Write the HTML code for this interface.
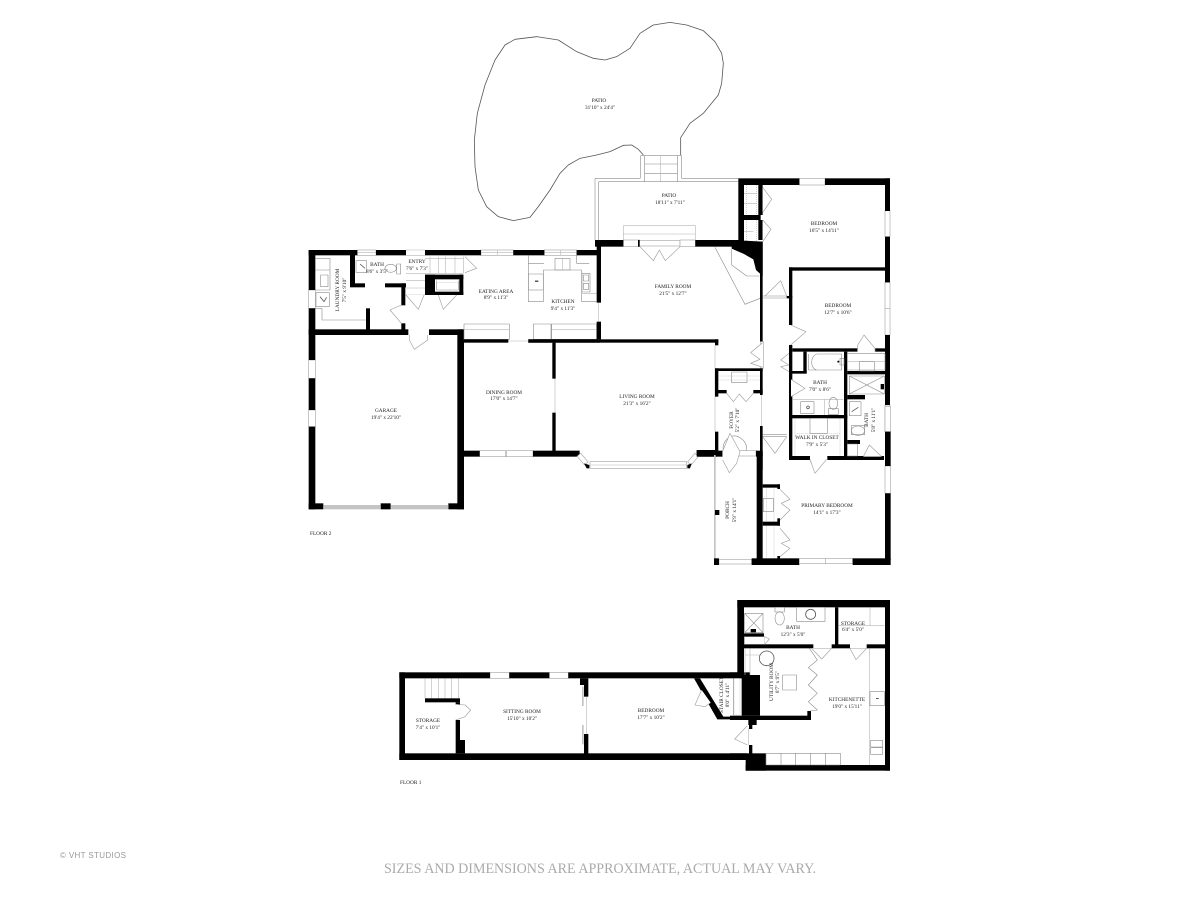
<!DOCTYPE html>
<html lang="en"><head><meta charset="utf-8"><title>Floor plan</title>
<style>
html,body{margin:0;padding:0;background:#fff}
svg{display:block;filter:blur(.35px)}
.k{fill:#000}
.w{fill:#fff;stroke:#aaa;stroke-width:2}
.g{fill:#c4c4c4}
.t{fill:none;stroke:#8a8a8a;stroke-width:1.8;stroke-linejoin:round}
.s{fill:none;stroke:#aaa;stroke-width:1.6;stroke-dasharray:3 3}
.l{fill:none;stroke:#b5b5b5;stroke-width:1.8}
.d{fill:#fff;stroke:#999;stroke-width:1.8;stroke-linejoin:round}
.n{fill:none;stroke:#555;stroke-width:2.4;stroke-linejoin:round}
text{font-family:"Liberation Serif",serif;font-size:5.3px;fill:#222;text-anchor:middle}
</style></head><body>
<svg width="1200" height="900" viewBox="0 0 1200 900" xmlns="http://www.w3.org/2000/svg">
<rect width="1200" height="900" fill="#fff"/>

<!-- Patio curve + steps -->
<g transform="translate(470,10) scale(.33333)">
<path class="n" d="M520,435 L505,418 L485,405 L460,406 L420,425 L380,435 L330,445 L295,465 L270,490 L240,540 L205,590 L180,622 L130,632 L85,620 L50,590 L25,540 L15,470 L13,390 L22,310 L45,225 L75,150 L105,105 L135,88 L200,80 L265,90 L320,125 L370,145 L405,150 L440,140 L480,115 L510,70 L550,45 L600,37 L650,45 L700,62 L735,95 L755,130 L760,160 L755,220 L745,255 L700,310 L660,340 L632,383 L632,435"/>
<path class="t" d="M512,505V437H635V505 M524,437V515 M622,437V515 M524,490H622 M524,462H622 M375,505H510 M635,505H805 M386,515H805 M386,515V690 M375,505V690"/>
<path class="l" d="M572,437V515"/>
</g>

<!-- West wing / garage / dining -->
<g transform="translate(300,240) scale(.33333)">
<rect class="w" x="172" y="30" width="56" height="16"/><rect class="w" x="543" y="30" width="97" height="16"/><rect class="w" x="733" y="30" width="97" height="16"/><rect class="w" x="26" y="360" width="20" height="55"/><rect class="w" x="26" y="510" width="20" height="50"/><rect class="w" x="26" y="150" width="20" height="55"/>
<path class="l" d="M592,30V46 M782,30V46 M172,38H228 M543,38H640 M733,38H830 M318,30H375 M318,46H375"/>
<rect class="k" x="26" y="30" width="146" height="16"/><rect class="k" x="228" y="30" width="90" height="16"/><rect class="k" x="375" y="30" width="168" height="16"/><rect class="k" x="640" y="30" width="93" height="16"/><rect class="k" x="830" y="30" width="70" height="16"/>
<rect class="k" x="26" y="30" width="20" height="120"/><rect class="k" x="26" y="205" width="20" height="155"/><rect class="k" x="26" y="415" width="20" height="95"/><rect class="k" x="26" y="560" width="20" height="248"/>
<rect class="k" x="26" y="268" width="299" height="17"/><rect class="k" x="387" y="268" width="103" height="17"/><rect class="k" x="472" y="268" width="20" height="540"/>
<rect class="k" x="26" y="790" width="44" height="18"/><rect class="k" x="242" y="790" width="30" height="18"/><rect class="k" x="445" y="790" width="47" height="18"/>
<rect class="g" x="70" y="795" width="172" height="13"/><rect class="g" x="272" y="795" width="173" height="13"/>
<rect class="k" x="150" y="30" width="15" height="110"/><rect class="k" x="150" y="130" width="45" height="12"/><rect class="k" x="255" y="130" width="63" height="12"/>
<rect class="k" x="304" y="130" width="12" height="66"/><rect class="k" x="304" y="250" width="12" height="20"/><rect class="k" x="198" y="205" width="12" height="65"/>
<rect class="k" x="375" y="104" width="115" height="14"/><rect class="k" x="375" y="104" width="30" height="61"/><rect class="k" x="478" y="104" width="12" height="61"/><rect class="k" x="405" y="155" width="85" height="10"/>
<path class="s" d="M410,128H475"/><path class="t" d="M410,122V150H475V122"/>
<!-- stairs -->
<path class="l" d="M318,100H375 M318,122H375 M318,144H375 M318,165H375 M390,50V100 M415,50V100 M437,50V100 M465,50V100 M490,50V100 M375,55H490 M375,100H490"/>
<!-- laundry -->
<path class="t" d="M46,55H90V150H46 M66,205V240H198 M66,205H46 M46,90H90"/>
<rect class="t" x="62" y="105" width="22" height="35"/><rect class="t" x="48" y="158" width="40" height="42"/><path class="n" d="M60,170L72,185L80,172"/>
<!-- bath fixtures -->
<rect class="t" x="168" y="62" width="32" height="35"/><path class="n" d="M180,72L195,85"/><ellipse class="t" cx="272" cy="85" rx="17" ry="12"/><rect class="t" x="290" y="72" width="12" height="30"/>
<!-- kitchen -->
<path class="t" d="M685,46V185H730V90H845V185H890 M685,70H732 M830,46V70H868"/>
<rect class="t" x="685" y="102" width="45" height="48"/><rect class="t" x="765" y="55" width="45" height="35"/><path class="l" d="M788,55V90 M685,150H730 M845,160H890"/>
<rect class="t" x="846" y="100" width="24" height="56"/><rect x="850" y="105" width="16" height="18" class="t"/><rect x="850" y="130" width="16" height="18" class="t"/>
<path class="k" d="M705,122h10v3h-10z"/>
<rect class="t" x="492" y="252" width="136" height="46"/><rect class="t" x="700" y="252" width="53" height="46"/><rect class="t" x="755" y="252" width="135" height="46"/>
<path class="l" d="M492,268H628 M755,268H890"/>
<rect class="k" x="492" y="298" width="133" height="10"/><rect class="k" x="685" y="298" width="215" height="10"/>
<path class="l" d="M625,303H685"/>
<rect class="k" x="757" y="308" width="10" height="108"/><rect class="k" x="757" y="518" width="10" height="115"/><path class="l" d="M765,416V518"/>
<rect class="w" x="539" y="632" width="78" height="18"/><rect class="w" x="619" y="632" width="80" height="18"/>
<rect class="k" x="492" y="632" width="47" height="18"/><rect class="k" x="699" y="632" width="140" height="18"/>
<rect class="k" x="890" y="0" width="13" height="188"/><rect class="k" x="890" y="245" width="13" height="53"/><path class="l" d="M896,188V245"/>
<!-- doors -->
<polyline class="d" points="328,285 328,300 343,328 383,300 383,285"/>
<polyline class="d" points="304,195 270,210 304,250"/>
<polyline class="d" points="495,50 530,85 495,98"/>
<polyline class="d" points="318,165 355,208 372,165"/>
<polyline class="d" points="415,165 430,208 470,165"/>
</g>

<!-- Living room / bay -->
<g transform="translate(460,330) scale(.33333)">
<rect class="k" x="205" y="28" width="570" height="10"/><rect class="k" x="765" y="28" width="10" height="18"/>
<path class="l" d="M765,46V305"/>
<rect class="k" x="710" y="360" width="60" height="20"/>
<g transform="rotate(50 367 388)"><rect class="w" x="350" y="380" width="34" height="14"/></g>
<g transform="rotate(-50 700 388)"><rect class="w" x="683" y="380" width="34" height="14"/></g>
<rect class="w" x="390" y="395" width="290" height="20"/><path class="l" d="M390,405H680"/>
<polygon class="k" points="372,400 388,405 388,415 380,415"/><polygon class="k" points="695,400 682,405 682,415 690,415"/>
</g>

<!-- Family room, bedrooms -->
<g transform="translate(590,170) scale(.33333)">
<path class="l" d="M100,167H316V210 M100,167V210 M100,192H316"/>
<rect class="w" x="100" y="210" width="48" height="20"/><rect class="w" x="148" y="212" width="122" height="16"/><rect class="w" x="270" y="210" width="46" height="20"/>
<rect class="k" x="15" y="210" width="85" height="20"/><rect class="k" x="316" y="210" width="130" height="20"/>
<rect class="k" x="144" y="210" width="5" height="20"/>
<polyline class="d" points="150,230 190,272 208,240 226,272 270,230"/>
<rect class="w" x="628" y="25" width="77" height="20"/>
<rect class="k" x="445" y="25" width="183" height="20"/><rect class="k" x="705" y="25" width="195" height="20"/>
<rect class="w" x="885" y="122" width="15" height="78"/><rect class="w" x="885" y="337" width="15" height="78"/><rect class="w" x="885" y="415" width="15" height="80"/><rect class="w" x="885" y="705" width="15" height="80"/>
<rect class="k" x="885" y="25" width="15" height="98"/><rect class="k" x="885" y="200" width="15" height="137"/><rect class="k" x="885" y="495" width="15" height="210"/><rect class="k" x="885" y="785" width="15" height="70"/>
<rect class="k" x="445" y="45" width="17" height="170"/><rect class="k" x="462" y="135" width="50" height="15"/><rect class="k" x="505" y="45" width="13" height="90"/><rect class="k" x="505" y="150" width="13" height="60"/>
<path class="s" d="M470,45V135 M500,45V135 M470,150V215 M500,150V215"/><path class="l" d="M462,185H490 M462,70H500 M462,100H500"/>
<polyline class="d" points="518,52 545,88 518,128"/><polyline class="d" points="518,150 543,178 518,215"/>
<polygon class="k" points="425,210 518,215 518,318 498,300 490,268 462,252 425,236"/>
<path class="t" d="M425,238V285L470,318H508 M375,232L465,403L510,385"/>
<rect class="k" x="510" y="215" width="8" height="300"/><rect class="k" x="510" y="595" width="8" height="80"/><rect class="k" x="510" y="768" width="8" height="132"/>
<path class="l" d="M514,675V768"/>
<polyline class="d" points="525,378 572,332 590,378"/><path class="t" d="M518,378H590 M518,384H590"/>
<rect class="k" x="590" y="378" width="17" height="7"/>
<rect class="k" x="597" y="292" width="288" height="10"/><rect class="k" x="597" y="292" width="10" height="173"/><rect class="k" x="597" y="525" width="10" height="335"/>
<rect class="w" x="512" y="515" width="8" height="80"/>
<polyline class="d" points="518,518 482,548 510,568 482,580 518,592"/>
<polyline class="d" points="602,465 648,485 602,525"/>
<rect class="k" x="607" y="535" width="195" height="10"/><rect class="k" x="855" y="535" width="30" height="10"/>
<polyline class="d" points="803,545 803,525 822,495 855,535 855,545"/>
<rect class="k" x="640" y="545" width="10" height="65"/><rect class="k" x="597" y="603" width="53" height="8"/>
<polyline class="d" points="597,550 572,570 597,585 572,590 597,605"/>
<rect class="k" x="762" y="545" width="10" height="325"/><rect class="k" x="597" y="735" width="175" height="10"/>
<rect class="k" x="597" y="858" width="63" height="12"/><rect class="k" x="712" y="858" width="170" height="12"/>
<rect class="k" x="772" y="603" width="113" height="10"/><rect class="k" x="772" y="675" width="53" height="13"/><rect class="k" x="772" y="810" width="38" height="12"/>
<rect class="k" x="375" y="595" width="143" height="8"/><rect class="k" x="375" y="595" width="10" height="85"/><rect class="k" x="375" y="660" width="35" height="10"/><rect class="k" x="490" y="660" width="28" height="10"/><rect class="k" x="375" y="785" width="10" height="65"/>
<rect class="k" x="320" y="842" width="78" height="18"/><rect class="w" x="398" y="842" width="100" height="16"/><rect class="k" x="498" y="842" width="20" height="18"/>
<path class="s" d="M385,618H510 M385,630H510"/><rect class="t" x="425" y="606" width="46" height="32"/>
<polyline class="d" points="410,670 430,695 448,672 468,695 490,670"/>
<path class="t" d="M400,842C395,815 420,790 445,800C470,815 472,830 468,842"/>
<!-- bath fixtures -->
<path class="t" d="M655,552V600H680C660,595 660,560 680,552H755V600H680"/><circle cx="745" cy="575" r="3"/><rect class="t" x="750" y="565" width="12" height="20"/>
<rect class="t" x="772" y="550" width="113" height="50"/><path class="l" d="M772,575H885"/><rect class="t" x="808" y="575" width="45" height="28"/>
<rect class="t" x="778" y="618" width="105" height="54"/><path class="t" d="M778,618L883,672 M883,618L778,672"/><rect class="k" x="872" y="642" width="10" height="16"/>
<polyline class="d" points="603,628 645,655 603,680"/>
<path class="l" d="M607,688H760"/><rect class="t" x="632" y="695" width="40" height="36"/><circle class="n" cx="654" cy="712" r="4"/>
<ellipse class="t" cx="730" cy="700" rx="13" ry="18"/><rect class="t" x="715" y="716" width="30" height="17"/><path class="l" d="M703,688V735"/>
<rect class="t" x="778" y="695" width="35" height="42"/><path class="n" d="M785,725L805,712"/>
<rect class="t" x="784" y="767" width="40" height="27"/><ellipse class="t" cx="804" cy="782" rx="20" ry="14"/>
<path class="s" d="M615,745V858 M750,745V858 M620,790H750"/><rect class="t" x="660" y="745" width="52" height="45"/>
<polyline class="d" points="518,800 555,850 590,800"/><path class="t" d="M518,794H590 M518,800H590"/>
<polyline class="d" points="660,870 672,898 705,870"/>
<rect class="t" x="772" y="822" width="30" height="36"/>
</g>

<!-- Primary bedroom and porch -->
<g transform="translate(700,340) scale(.33333)">
<rect class="g" x="42" y="345" width="5" height="315"/>
<rect class="k" x="45" y="510" width="13" height="15"/>
<rect class="k" x="170" y="335" width="18" height="340"/>
<polyline class="d" points="68,333 90,280 120,335 110,370 88,398 68,360"/>
<rect class="w" x="57" y="658" width="98" height="14"/>
<rect class="k" x="42" y="655" width="15" height="20"/><rect class="k" x="155" y="655" width="143" height="20"/>
<rect class="w" x="298" y="655" width="78" height="16"/><rect class="w" x="376" y="655" width="82" height="16"/>
<rect class="k" x="458" y="655" width="114" height="20"/>
<rect class="w" x="555" y="200" width="17" height="75"/><rect class="w" x="555" y="378" width="17" height="82"/>
<rect class="k" x="555" y="275" width="17" height="103"/><rect class="k" x="555" y="460" width="17" height="200"/>
<rect class="k" x="188" y="433" width="52" height="10"/><rect class="k" x="232" y="433" width="8" height="14"/><rect class="k" x="188" y="545" width="52" height="12"/><rect class="k" x="232" y="535" width="8" height="22"/><rect class="k" x="232" y="648" width="8" height="12"/>
<path class="s" d="M200,443V545 M222,443V545 M200,557V655 M222,557V655"/><rect class="t" x="190" y="475" width="30" height="40"/>
<polyline class="d" points="240,448 270,478 244,490 270,510 240,540"/>
<polyline class="d" points="240,565 270,600 244,610 270,625 240,650"/>
<polyline class="d" points="330,358 345,400 380,358"/>
<polyline class="d" points="490,350 508,315 545,350"/>
</g>

<!-- Floor 1 left -->
<g transform="translate(390,660) scale(.33333)">
<rect class="w" x="300" y="37" width="58" height="18"/><rect class="w" x="478" y="37" width="57" height="18"/>
<rect class="k" x="28" y="37" width="272" height="18"/><rect class="k" x="358" y="37" width="120" height="18"/><rect class="k" x="535" y="37" width="545" height="18"/>
<rect class="k" x="28" y="37" width="17" height="263"/><rect class="k" x="28" y="280" width="1040" height="20"/>
<path class="l" d="M105,55V115 M125,55V115 M145,55V115 M165,55V115 M185,55V115 M205,55V115"/>
<rect class="k" x="105" y="115" width="105" height="12"/><rect class="k" x="197" y="127" width="13" height="8"/><rect class="k" x="197" y="180" width="13" height="100"/><rect class="k" x="210" y="240" width="15" height="40"/>
<polyline class="d" points="197,133 225,135 242,150 225,170 197,180"/>
<rect class="k" x="582" y="55" width="13" height="55"/><rect class="k" x="570" y="55" width="12" height="20"/><rect class="k" x="582" y="222" width="13" height="60"/>
<rect class="g" x="576" y="80" width="5" height="58"/><rect class="g" x="576" y="195" width="5" height="58"/><path class="l" d="M590,110V222"/>
<polygon class="k" points="912,55 930,55 1000,170 1050,170 1050,178 982,178"/>
<polyline class="d" points="935,90 915,135 945,140 962,128"/>
<path class="t" d="M1030,55V165"/><rect class="s" x="1032" y="55" width="18" height="110"/>
</g>

<!-- Floor 1 right -->
<g transform="translate(730,595) scale(.33333)">
<rect class="k" x="22" y="15" width="458" height="22"/><rect class="k" x="22" y="15" width="20" height="222"/><rect class="k" x="465" y="15" width="15" height="512"/>
<rect class="k" x="47" y="510" width="433" height="17"/><rect class="k" x="47" y="475" width="61" height="52"/><rect class="k" x="0" y="475" width="50" height="20"/>
<rect class="k" x="42" y="148" width="208" height="12"/><rect class="k" x="305" y="148" width="55" height="12"/><rect class="k" x="410" y="148" width="55" height="12"/>
<rect class="k" x="315" y="37" width="10" height="112"/>
<rect class="k" x="0" y="232" width="35" height="16"/><rect class="k" x="35" y="240" width="55" height="122"/><rect class="k" x="0" y="362" width="243" height="13"/><rect class="k" x="232" y="348" width="11" height="27"/>
<rect class="k" x="55" y="375" width="25" height="15"/><rect class="k" x="57" y="390" width="10" height="12"/><rect class="k" x="57" y="450" width="10" height="30"/>
<rect class="k" x="42" y="115" width="60" height="10"/>
<rect class="t" x="44" y="55" width="55" height="58"/><path class="t" d="M44,55L99,113 M99,55L44,113"/><rect class="k" x="62" y="102" width="16" height="10"/>
<rect class="t" x="44" y="125" width="60" height="23"/><polyline class="d" points="104,125 118,132 104,148"/>
<rect class="t" x="135" y="37" width="28" height="14"/><ellipse class="t" cx="149" cy="70" rx="14" ry="20"/>
<rect class="t" x="200" y="37" width="85" height="42"/><circle class="n" cx="242" cy="58" r="15"/>
<path class="l" d="M326,92H464 M420,37V92"/>
<polyline class="d" points="245,160 275,192 305,160"/><polyline class="d" points="360,160 378,194 410,160"/>
<path class="l" d="M245,160H305 M360,160H410"/>
<path class="t" d="M238,160L262,195L235,218L262,240L235,270L262,295L235,320L262,345L240,348"/>
<path class="l" d="M60,160V240 M45,160V240 M45,180H90"/>
<circle class="n" cx="110" cy="190" r="22"/><rect class="t" x="158" y="240" width="42" height="45"/>
<path class="l" d="M418,160V510"/>
<rect class="t" x="420" y="290" width="43" height="42"/><rect class="k" x="438" y="310" width="8" height="2"/>
<rect class="t" x="422" y="436" width="36" height="20"/><rect class="t" x="422" y="458" width="36" height="20"/>
<polyline class="d" points="52,392 14,432 52,450"/><path class="l" d="M55,400V450"/>
<rect class="t" x="108" y="475" width="223" height="35"/><path class="t" d="M153,475V510 M197,475V510 M242,475V510 M287,475V510"/>
</g>

<!-- Labels -->
<text x="599" y="102">PATIO</text><text x="600" y="109">31'10" x 24'4"</text>
<text x="669" y="197">PATIO</text><text x="670" y="204">18'11" x 7'11"</text>
<text x="824" y="225">BEDROOM</text><text x="824" y="232">16'5" x 14'11"</text>
<text x="838" y="307">BEDROOM</text><text x="838" y="314">12'7" x 10'6"</text>
<text x="673" y="288">FAMILY ROOM</text><text x="673" y="295">21'5" x 12'7"</text>
<text x="563" y="303">KITCHEN</text><text x="563" y="310">9'4" x 11'3"</text>
<text x="496" y="293">EATING AREA</text><text x="496" y="299">8'9" x 11'3"</text>
<text x="417" y="263">ENTRY</text><text x="417" y="270">7'6" x 7'3"</text>
<text x="377" y="266">BATH</text><text x="377" y="273">8'6" x 3'5"</text>
<text transform="translate(339,290) rotate(-90)">LAUNDRY ROOM</text><text transform="translate(346,290) rotate(-90)">7'5" x 9'10"</text>
<text x="386" y="412">GARAGE</text><text x="386" y="419">19'4" x 22'10"</text>
<text x="504" y="394">DINING ROOM</text><text x="504" y="400">17'0" x 14'7"</text>
<text x="637" y="398">LIVING ROOM</text><text x="637" y="405">21'3" x 16'2"</text>
<text x="820" y="384">BATH</text><text x="820" y="391">7'0" x 8'6"</text>
<text x="817" y="439">WALK IN CLOSET</text><text x="817" y="446">7'9" x 5'3"</text>
<text transform="translate(868,420) rotate(-90)">BATH</text><text transform="translate(875,420) rotate(-90)">5'8" x 11'1"</text>
<text transform="translate(733,420) rotate(-90)">FOYER</text><text transform="translate(739,420) rotate(-90)">5'2" x 7'10"</text>
<text transform="translate(729,510) rotate(-90)">PORCH</text><text transform="translate(736,510) rotate(-90)">5'9" x 14'1"</text>
<text x="827" y="507">PRIMARY BEDROOM</text><text x="827" y="514">14'1" x 17'3"</text>
<text x="428" y="722">STORAGE</text><text x="428" y="729">7'4" x 10'1"</text>
<text x="522" y="713">SITTING ROOM</text><text x="522" y="720">15'10" x 10'2"</text>
<text x="651" y="712">BEDROOM</text><text x="651" y="719">17'7" x 10'2"</text>
<text transform="translate(723,695) rotate(-90)">STAIR CLOSET</text><text transform="translate(729,695) rotate(-90)">8'0" x 4'11"</text>
<text x="853" y="625">STORAGE</text><text x="853" y="631">6'4" x 5'0"</text>
<text x="793" y="629">BATH</text><text x="793" y="636">12'3" x 5'0"</text>
<text transform="translate(773,682) rotate(-90)">UTILITY ROOM</text><text transform="translate(779,682) rotate(-90)">8'7" x 9'5"</text>
<text x="847" y="701">KITCHENETTE</text><text x="847" y="708">19'0" x 15'11"</text>
<text x="310" y="535" style="text-anchor:start">FLOOR 2</text>
<text x="400" y="784" style="text-anchor:start">FLOOR 1</text>
<text x="60" y="858" style="text-anchor:start;font-family:'Liberation Sans',sans-serif;font-size:8px;fill:#999" textLength="66">© VHT STUDIOS</text>
<text x="384" y="873" style="text-anchor:start;font-size:15px;fill:#aaa" textLength="432" lengthAdjust="spacingAndGlyphs">SIZES AND DIMENSIONS ARE APPROXIMATE, ACTUAL MAY VARY.</text>
</svg>
</body></html>
